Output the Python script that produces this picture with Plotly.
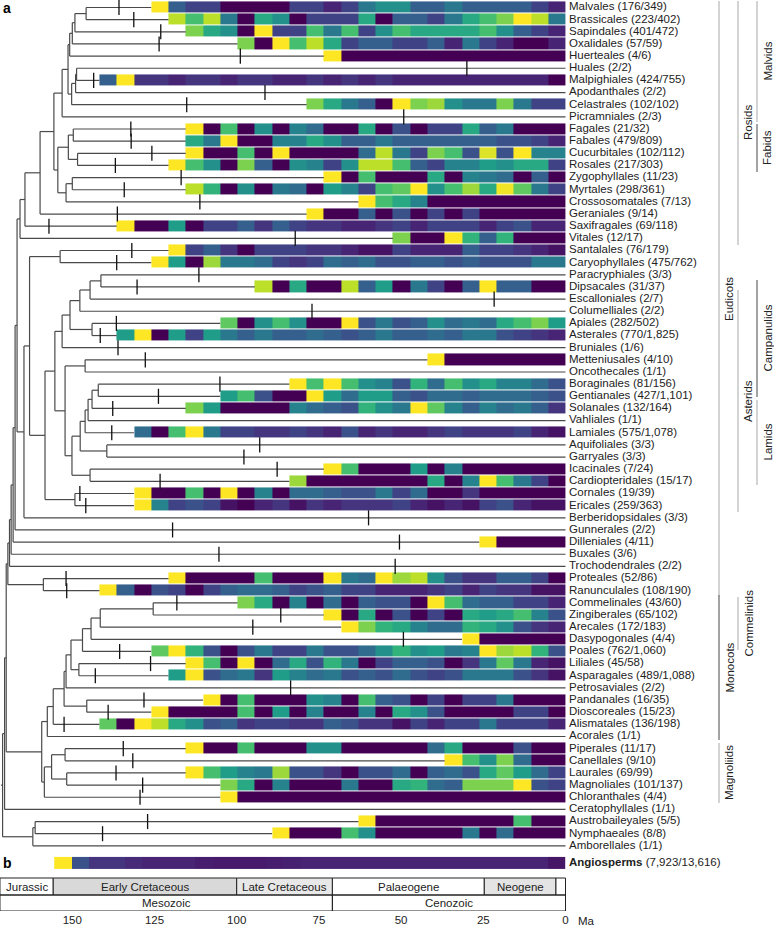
import plotly.graph_objects as go
import numpy as np

# ---------------- data ----------------
ORDERS = ["Malvales", "Brassicales", "Sapindales", "Oxalidales", "Huerteales", "Huales",
          "Malpighiales", "Apodanthales", "Celastrales", "Picramniales", "Fagales", "Fabales",
          "Cucurbitales", "Rosales", "Zygophyllales", "Myrtales", "Crossosomatales", "Geraniales",
          "Saxifragales", "Vitales", "Santalales", "Caryophyllales", "Paracryphiales", "Dipsacales",
          "Escalloniales", "Columelliales", "Apiales", "Asterales", "Bruniales", "Metteniusales",
          "Oncothecales", "Boraginales", "Gentianales", "Solanales", "Vahliales", "Lamiales",
          "Aquifoliales", "Garryales", "Icacinales", "Cardiopteridales", "Cornales", "Ericales",
          "Berberidopsidales", "Gunnerales", "Dilleniales", "Buxales", "Trochodendrales",
          "Proteales", "Ranunculales", "Commelinales", "Zingiberales", "Arecales", "Dasypogonales",
          "Poales", "Liliales", "Asparagales", "Petrosaviales", "Pandanales", "Dioscoreales",
          "Alismatales", "Acorales", "Piperales", "Canellales", "Laurales", "Magnoliales",
          "Chloranthales", "Ceratophyllales", "Austrobaileyales", "Nymphaeales", "Amborellales"]

COUNTS = ["176/349", "223/402", "401/472", "57/59", "4/6", "2/2", "424/755", "2/2", "102/102",
          "2/3", "21/32", "479/809", "102/112", "217/303", "11/23", "298/361", "7/13", "9/14",
          "69/118", "12/17", "76/179", "475/762", "3/3", "31/37", "2/7", "2/2", "282/502",
          "770/1,825", "1/6", "4/10", "1/1", "81/156", "427/1,101", "132/164", "1/1", "575/1,078",
          "3/3", "3/3", "7/24", "15/17", "19/39", "259/363", "3/3", "2/2", "4/11", "3/6", "2/2",
          "52/86", "108/190", "43/60", "65/102", "172/183", "4/4", "762/1,060", "45/58",
          "489/1,088", "2/2", "16/35", "15/23", "136/198", "1/1", "11/17", "9/10", "69/99",
          "101/137", "4/4", "1/1", "5/5", "8/8", "1/1"]

# rate level per time bin (0 = lowest, 10 = highest), oldest bin first
RATES = [
    [10, 3, 2, 2, 0, 0, 0, 0, 2, 2, 1, 2, 4, 5, 5, 3, 3, 4, 3, 3, 3, 3, 2, 1],
    [9, 7, 9, 4, 0, 6, 5, 0, 2, 2, 2, 6, 0, 3, 3, 2, 4, 6, 7, 8, 10, 9, 4],
    [8, 6, 5, 0, 10, 2, 2, 7, 4, 7, 2, 5, 7, 6, 6, 6, 6, 7, 5, 3, 2, 1],
    [8, 0, 10, 7, 9, 6, 2, 3, 3, 2, 2, 3, 1, 4, 2, 1, 0, 0, 1],
    [10, 0, 0, 0, 0, 0, 0, 0, 0, 0, 0, 0, 0, 0],
    [],
    [3, 10, 1.5, 1.5, 1, 1.5, 1.5, 1, 1.5, 1.5, 1, 1, 1.5, 1, 1.5, 1, 1.5, 1, 1, 1, 1, 1, 1, 1, 1, 1, 0],
    [],
    [8, 6, 4, 3, 0, 10, 8, 8.5, 5, 4, 4, 8, 4, 2, 2],
    [],
    [10, 0, 7, 0, 5, 0, 4.5, 3.5, 0, 0, 6, 0, 2.5, 0, 2, 2, 6, 3, 4, 0, 0, 0],
    [6, 4, 10, 0, 0, 4.5, 4.5, 6, 5, 3, 3, 4, 3, 3, 3, 3, 3, 3, 2.5, 2.5, 2, 1],
    [10, 0, 0, 7, 0, 10, 0, 0, 0, 0, 3.5, 9, 4, 2, 8, 7, 2.5, 9.5, 2.5, 10, 4.5, 4.5],
    [10, 7, 5, 0, 8, 3, 0, 5, 4.5, 2, 5, 9, 9, 7, 3, 2, 4.5, 4.5, 5.5, 5, 6, 6, 2],
    [10, 0, 7, 0, 0, 0, 6, 0, 4.5, 4, 3.5, 0, 3, 0],
    [9, 6.5, 0, 5, 0, 4, 3.5, 0, 5.5, 4.5, 2, 7, 7.5, 10, 5, 7, 8.5, 6, 9.8, 7.5, 4, 2],
    [10, 7, 6, 4.5, 0, 0, 0, 0, 0, 0, 0, 0],
    [10, 0, 0, 3, 0, 2.5, 0, 2, 0, 2, 0, 0, 0, 0, 0],
    [10, 0, 0, 5.5, 0, 2, 2, 3, 1.5, 3, 2, 1.5, 1.5, 1, 1, 1.5, 2, 1, 2, 2, 2, 1, 2, 2.5, 1, 1],
    [8, 0, 0, 10, 6.5, 3, 6.5, 0, 0, 0],
    [10, 2, 3, 1.5, 0, 2, 2, 2, 1.5, 1.5, 1, 0.5, 0.5, 2, 1, 1, 1, 3, 2, 2, 1.5, 1, 0.5],
    [10, 5.5, 0, 8.5, 4, 4, 3.5, 2, 1.5, 2, 3.5, 3, 3.5, 2.5, 2.5, 3, 3, 2.5, 3, 2.5, 2.5, 2.5, 4, 4],
    [],
    [9, 0, 6, 0, 0, 9, 3, 5.5, 0, 4, 2, 0, 3, 10, 3, 3, 0, 0],
    [],
    [],
    [7.5, 0, 5, 7, 5, 0, 0, 10, 2.5, 4, 2.5, 3, 5, 3.5, 4, 3.5, 6, 7, 8, 5.5],
    [5.5, 10, 0, 5.5, 2, 5.5, 4, 3, 4, 3, 3, 3.5, 3, 2.5, 3, 4, 3, 3, 3.5, 3, 4, 4, 2.5, 2, 1.5, 1],
    [],
    [10, 0, 0, 0, 0, 0, 0, 0],
    [],
    [10, 7, 10, 7, 5, 4.5, 2.5, 6.5, 3.5, 7, 5, 6, 4.5, 4.5, 3.5, 2.5],
    [5.5, 7, 2.5, 0, 0, 10, 5.5, 3.5, 5.5, 5.5, 3, 2.5, 3.5, 3.5, 3, 3.5, 3.5, 3.5, 3, 2.5],
    [8, 5.5, 0, 0, 0, 0, 4.5, 3.5, 3, 2.5, 6.5, 5, 4, 10, 7.5, 4.5, 3, 4.5, 3.5, 4, 3, 1.5],
    [],
    [3.5, 0, 7, 10, 4, 2, 2, 1.5, 1.5, 2, 1.5, 1, 2.5, 1, 1.5, 1, 1, 1.5, 2, 1.5, 1.5, 1.5, 2, 1, 0.5],
    [],
    [],
    [10, 7, 0, 0, 0, 5.5, 0, 4.5, 0, 0, 0, 0, 0, 0],
    [8.5, 0, 0, 0, 0, 0, 0, 0, 6, 0, 4.5, 10, 7, 4, 2, 0],
    [10, 0, 0, 7, 0, 10, 0, 4.5, 0, 3.5, 3.5, 3, 2.5, 2.5, 4, 2, 3.5, 0, 0, 1.5, 0, 0, 0, 0, 0],
    [10, 4.5, 2, 2.5, 2, 0.5, 0, 1, 1.5, 0.5, 1.5, 1, 1.5, 1.5, 1.5, 2, 1, 0.5, 1, 0.5, 2, 2.5, 1, 0.5, 0.5],
    [],
    [],
    [10, 0, 0, 0, 0],
    [],
    [],
    [10, 0, 0, 0, 0, 7, 0, 0, 0, 10, 4, 3.5, 10, 8.5, 9, 5, 2.5, 1.5, 1.5, 3, 3, 2, 0],
    [10, 3, 0, 2.5, 2, 0, 2, 3, 3.5, 3.5, 3, 2, 2.5, 3, 2, 2, 1, 1, 1, 1.5, 2, 1, 2, 1.5, 1.5, 0.5, 0.5],
    [8, 6, 0, 4.5, 0, 3.5, 0, 3, 2.5, 2.5, 0, 10, 7, 3.5, 3, 3, 2, 2, 1],
    [10, 0, 6, 0, 2.5, 0, 2, 0, 6, 5.5, 6, 7, 4.5, 2.5],
    [10, 8, 6.5, 6, 4.5, 3.5, 3.5, 6.5, 6, 5, 2.5, 1.5, 1],
    [10, 0, 0, 0, 0, 0],
    [7.5, 10, 6.5, 2.5, 0, 2.5, 4, 2, 2, 4, 2.5, 2.5, 3.5, 5, 6.5, 5, 5.5, 4, 4.5, 10, 8.5, 9, 6.5, 2.5],
    [10, 7, 0, 10, 0, 3.5, 6, 2.5, 6.5, 4, 0, 2, 3, 3, 2.5, 0, 1.5, 4, 7.5, 4, 1, 0.5],
    [5.5, 10, 2.5, 3.5, 4, 1.5, 5.5, 4.5, 3.5, 4, 2.5, 3, 2.5, 3.5, 2.5, 2, 2.5, 4, 4, 4, 2.5, 1.5, 0.5],
    [],
    [10, 0, 7, 0, 0, 0, 5, 4.5, 0, 7, 3, 2.5, 0, 2, 0, 2, 2, 4, 0, 0, 0],
    [10, 0, 0, 0, 0, 7, 0, 5.5, 0, 4.5, 0, 0, 4.5, 0, 6, 5, 2.5, 0, 0, 0, 0, 2, 2, 0],
    [7.5, 0, 10, 9, 6, 5, 2.5, 3, 1.5, 2, 2, 1.5, 1.5, 3, 2.5, 1.5, 1.5, 0.5, 2, 1, 2, 2, 4, 2, 2, 2, 1],
    [],
    [10, 0, 0, 7, 0, 0, 0, 5, 5, 0, 0, 0, 0, 0, 3.5, 6, 0, 0, 0, 2.5, 0, 0],
    [10, 7, 5, 8, 3.5, 0, 0],
    [10, 7, 5.5, 4.5, 4, 8.5, 2.5, 2.5, 1.5, 0, 2.5, 2.5, 3.5, 0, 3, 3.5, 2.5, 6, 7.5, 5.5, 3.5, 2],
    [8, 6, 0, 4.5, 0, 0, 0, 4, 0, 0, 6, 6.5, 3.5, 3, 8, 8, 8, 10, 2.5, 2],
    [10, 0, 0, 0, 0, 0, 0, 0, 0, 0, 0, 0, 0, 0, 0, 0, 0, 0, 0, 0],
    [],
    [10, 0, 0, 0, 0, 0, 0, 0, 0, 7, 0, 0],
    [10, 0, 0, 0, 7, 5, 0, 0, 0, 0, 0, 4, 0, 3.5, 0, 0, 0],
    [],
]

# marker ages on terminal branches (Ma); None = no marker
MARKERS = [135.8, 131.3, 123.1, 123.6, 98.9, 30.0, 143.5, 91.4, 115.2, 49.2,
           132.2, 132.1, 125.8, 136.9, 116.9, 134.2, 111.2, 136.3, 157.1, 82.2,
           131.9, 136.5, 111.5, 130.3, 21.7, 77.1, 136.6, 141.5, 136.1, 127.8,
           None, 105.1, 123.8, 137.7, None, 138.0, 93.0, 97.8, 87.7, 123.3,
           147.7, 145.9, 59.9, 119.5, 50.5, 105.4, 51.8, 151.9, 151.7, 118.2,
           86.6, 95.1, 49.3, 135.6, 126.2, 143.0, 83.6, 128.2, 139.1, 152.5,
           None, 134.5, 131.6, 136.7, 128.6, 129.4, None, 127.1, 140.8, None]

ANGIO_RATES = [10, 2.5, 1.5, 1.5, 1.2, 1, 1, 1, 0.8, 0.7, 0.7, 0.7, 0.8, 0.9, 1,
               1, 1, 1, 1, 1, 1, 1, 1, 1, 1, 1, 1, 1, 0.6]
ANGIO_START = 155.5
BIN_MA = 5.25

# internal nodes: (name, age in Ma, children); ints are order rows
NODES = [
    ("mal1", 145.8, [0, 1]), ("mal2", 149.2, ["mal1", 2]), ("mal3", 150.0, ["mal2", 3]),
    ("mal4", 150.8, ["mal3", 4]), ("mpg1", 148.7, [5, 6]), ("mpg2", 149.0, ["mpg1", 7]),
    ("mpg3", 150.2, ["mpg2", 8]), ("mal5", 151.3, ["mal4", "mpg3"]), ("mal6", 153.1, ["mal5", 9]),
    ("fab1", 149.7, [10, 11]), ("fab2", 148.4, [12, 13]), ("fab3", 151.2, ["fab1", "fab2"]),
    ("fab4", 150.0, [14, 15]), ("fab5", 151.9, ["fab4", 16]), ("fab6", 154.4, ["fab3", "fab5"]),
    ("ros1", 155.6, ["mal6", "fab6"]), ("ros2", 159.8, ["ros1", 17]), ("ros3", 164.4, ["ros2", 18]),
    ("ros4", 165.9, ["ros3", 19]),
    ("car1", 153.7, [20, 21]),
    ("cam1", 141.3, [22, 23]), ("cam2", 144.6, ["cam1", 24]), ("cam3", 147.7, ["cam2", 25]),
    ("cam4", 144.0, [26, 27]), ("cam5", 150.7, ["cam3", "cam4"]), ("cam6", 153.1, ["cam5", 28]),
    ("lam9", 146.1, [29, 30]),
    ("lam1", 142.1, [31, 32]), ("lam2", 144.0, ["lam1", 33]), ("lam3", 145.2, ["lam2", 34]),
    ("lam4", 146.1, ["lam3", 35]), ("lam5", 139.5, [36, 37]), ("lam6", 147.6, ["lam4", "lam5"]),
    ("lam7", 144.6, [38, 39]), ("lam8", 150.1, ["lam6", "lam7"]), ("lam10", 152.2, ["lam9", "lam8"]),
    ("ast1", 155.3, ["cam6", "lam10"]), ("ast2", 149.2, [40, 41]), ("ast3", 158.3, ["ast1", "ast2"]),
    ("sup1", 163.0, ["car1", "ast3"]), ("sup2", 164.7, ["sup1", 42]),
    ("pen", 166.8, ["ros4", "sup2"]), ("ce1", 167.4, ["pen", 43]), ("ce2", 168.0, ["ce1", 44]),
    ("eu1", 168.6, ["ce2", 45]), ("eu2", 169.1, ["eu1", 46]),
    ("pr", 158.8, [47, 48]), ("eud", 169.6, ["eu2", "pr"]),
    ("mo1", 125.4, [49, 50]), ("mo2", 141.5, ["mo1", 51]), ("mo3", 144.3, ["mo2", 52]),
    ("mo4", 146.9, ["mo3", 53]), ("mo5", 148.0, [54, 55]), ("mo6", 150.4, ["mo4", "mo5"]),
    ("mo7", 151.9, ["mo6", 56]), ("mo8", 145.6, [57, 58]), ("mo9", 152.5, ["mo7", "mo8"]),
    ("mo10", 155.8, ["mo9", 59]), ("mo11", 157.6, ["mo10", 60]),
    ("mg1", 152.2, [61, 62]), ("mg2", 151.7, [63, 64]), ("mg3", 156.3, ["mg1", "mg2"]),
    ("mg4", 158.5, ["mg3", 65]), ("mm", 159.3, ["mo11", "mg4"]),
    ("ms1", 170.1, ["eud", "mm"]), ("ms2", 170.6, ["ms1", 66]),
    ("an1", 161.3, [67, 68]), ("an2", 162.0, ["an1", 69]),
    ("root", 171.2, ["ms2", "an2"]),
]

GEO_UPPER = [("Jurassic", 172.0, 155.8, "#ffffff"), ("Early Cretaceous", 155.8, 100.0, "#d9d9d9"),
             ("Late Cretaceous", 100.0, 70.9, "#e8e8e8"), ("Palaeogene", 70.9, 24.7, "#ffffff"),
             ("Neogene", 24.7, 2.9, "#e4e4e4"), ("", 2.9, 0.0, "#ffffff")]
GEO_LOWER = [("Mesozoic", 172.0, 70.9), ("Cenozoic", 70.9, 0.0)]
AXIS_TICKS = [150, 125, 100, 75, 50, 25, 0]

CLADES = [  # (label, level, top px, bottom px, shade)
    ("Eudicots", 1, 1, 597, "#c9c9c9"), ("Rosids", 2, 1, 245, "#c9c9c9"),
    ("Malvids", 3, 1, 122, "#c9c9c9"), ("Fabids", 3, 124, 172, "#8c8c8c"),
    ("Asterids", 2, 290, 512, "#c9c9c9"), ("Campanulids", 3, 280, 397, "#8c8c8c"),
    ("Lamids", 3, 400, 485, "#c9c9c9"), ("Monocots", 1, 595, 740, "#8c8c8c"),
    ("Commelinids", 2, 597, 650, "#c9c9c9"), ("Magnoliids", 1, 743, 803, "#c9c9c9"),
]

# ---------------- geometry helpers ----------------
W, H = 774, 929
PLOT_H = 911
X0_PX, PX_PER_MA = 565.5, 3.288
ROW0_PX, ROW_PX = 7.5, 12.15
X_LEFT = X0_PX / PX_PER_MA
X_RIGHT = (X0_PX - W) / PX_PER_MA
Y_TOP = -ROW0_PX / ROW_PX
Y_BOT = (PLOT_H - ROW0_PX) / ROW_PX


def yrow(px):
    return (px - ROW0_PX) / ROW_PX


def xma(px):
    return (X0_PX - px) / PX_PER_MA


FONT = "Liberation Sans, Arial, Helvetica, sans-serif"
FS = 11.5
n_rows = len(ORDERS)
n_cols = max(len(r) for r in RATES)

# ---------------- tree ----------------
node_map = {name: (age, ch) for name, age, ch in NODES}
ypos = {}


def get_y(c):
    if isinstance(c, int):
        return float(c)
    if c in ypos:
        return ypos[c]
    ys = [get_y(k) for k in node_map[c][1]]
    ypos[c] = (min(ys) + max(ys)) / 2
    return ypos[c]


def tip_age(i):
    return len(RATES[i]) * BIN_MA


tx, ty = [], []
for name, age, ch in NODES:
    ys = [get_y(k) for k in ch]
    tx += [age, age, None]
    ty += [min(ys), max(ys), None]
    for k in ch:
        end = tip_age(k) if isinstance(k, int) else node_map[k][0]
        tx += [age, end, None]
        ty += [get_y(k), get_y(k), None]
root_age = node_map["root"][0]
tx += [root_age + 0.5, root_age, None]
ty += [get_y("root"), get_y("root"), None]

fig = go.Figure()
fig.add_trace(go.Scatter(x=tx, y=ty, mode="lines", line=dict(color="#4a4a4a", width=1.2),
                         hoverinfo="skip", showlegend=False))

mx, my = [], []
for i, m in enumerate(MARKERS):
    if m is None:
        continue
    mx += [m, m, None]
    my += [i - 0.62, i + 0.62, None]
fig.add_trace(go.Scatter(x=mx, y=my, mode="lines", line=dict(color="#111111", width=1.3),
                         hoverinfo="skip", showlegend=False))

# ---------------- heatmaps ----------------
z = np.full((n_rows, n_cols), np.nan)
for i, r in enumerate(RATES):
    n = len(r)
    for m, v in enumerate(r):
        z[i, n - 1 - m] = v
x_edges = [BIN_MA * c for c in range(n_cols + 1)]
y_edges = [i - 0.5 for i in range(n_rows + 1)]
fig.add_trace(go.Heatmap(z=z, x=x_edges, y=y_edges, colorscale="Viridis", zmin=0, zmax=10,
                         showscale=False, ygap=1, hoverinfo="skip"))

na = len(ANGIO_RATES)
aw = ANGIO_START / na
ya = yrow(863)
fig.add_trace(go.Heatmap(z=[ANGIO_RATES[::-1]], x=[aw * c for c in range(na + 1)],
                         y=[ya - 0.5, ya + 0.5], colorscale="Viridis", zmin=0, zmax=10,
                         showscale=False, hoverinfo="skip"))

# ---------------- labels ----------------
labels = [f"{o} ({c})" for o, c in zip(ORDERS, COUNTS)]
fig.add_trace(go.Scatter(x=[xma(569)] * n_rows, y=list(range(n_rows)), mode="text", text=labels,
                         textposition="middle right", textfont=dict(family=FONT, size=FS, color="#222"),
                         hoverinfo="skip", showlegend=False))
fig.add_trace(go.Scatter(x=[xma(569)], y=[ya], mode="text",
                         text=["<b>Angiosperms</b> (7,923/13,616)"], textposition="middle right",
                         textfont=dict(family=FONT, size=FS, color="#222"),
                         hoverinfo="skip", showlegend=False))

shapes = []
annotations = []

# geological table
r1a, r1b, r2b = yrow(878), yrow(895), yrow(911)
for name, a0, a1, col in GEO_UPPER:
    shapes.append(dict(type="rect", x0=a0, x1=a1, y0=r1a, y1=r1b, xref="x", yref="y",
                       fillcolor=col, line=dict(color="#222", width=1), layer="above"))
    if name:
        annotations.append(dict(x=(a0 + a1) / 2, y=(r1a + r1b) / 2, text=name, showarrow=False,
                                font=dict(family=FONT, size=FS, color="#222")))
for name, a0, a1 in GEO_LOWER:
    shapes.append(dict(type="rect", x0=a0, x1=a1, y0=r1b, y1=r2b, xref="x", yref="y",
                       fillcolor="rgba(0,0,0,0)", line=dict(color="#222", width=1), layer="above"))
    annotations.append(dict(x=(a0 + a1) / 2, y=(r1b + r2b) / 2, text=name, showarrow=False,
                            font=dict(family=FONT, size=FS, color="#222")))
annotations.append(dict(x=xma(576), y=0, yref="paper", xref="x", text="Ma", showarrow=False,
                        xanchor="left", yanchor="top", yshift=-2,
                        font=dict(family=FONT, size=FS, color="#222")))

# clade brackets
LEVEL_X = {1: 719, 2: 738, 3: 757}
for name, lvl, p0, p1, col in CLADES:
    xl = LEVEL_X[lvl] / W
    shapes.append(dict(type="line", xref="paper", yref="y", x0=xl, x1=xl, y0=yrow(p0), y1=yrow(p1),
                       line=dict(color=col, width=1.6)))
    annotations.append(dict(xref="paper", yref="y", x=(LEVEL_X[lvl] + 10) / W, y=yrow((p0 + p1) / 2),
                            text=name, textangle=-90, showarrow=False, xanchor="center",
                            font=dict(family=FONT, size=FS, color="#222")))

annotations.append(dict(xref="paper", yref="y", x=1 / W, y=yrow(8), text="<b>a</b>", showarrow=False,
                        xanchor="left", font=dict(family=FONT, size=14, color="#000")))
annotations.append(dict(xref="paper", yref="y", x=1 / W, y=yrow(863), text="<b>b</b>", showarrow=False,
                        xanchor="left", font=dict(family=FONT, size=14, color="#000")))

fig.update_layout(
    width=W, height=H, margin=dict(l=0, r=0, t=0, b=H - PLOT_H),
    paper_bgcolor="white", plot_bgcolor="white", showlegend=False,
    xaxis=dict(range=[X_LEFT, X_RIGHT], tickvals=AXIS_TICKS, ticktext=[str(t) for t in AXIS_TICKS],
               showgrid=False, zeroline=False, showline=False, ticks="",
               tickfont=dict(family=FONT, size=FS, color="#222")),
    yaxis=dict(range=[Y_BOT, Y_TOP], showgrid=False, zeroline=False, showline=False,
               showticklabels=False, ticks=""),
    shapes=shapes, annotations=annotations,
)
fig.write_html("out.html", config={"displayModeBar": False},
               post_script="document.body.style.margin='0px';document.body.style.overflow='hidden';")
